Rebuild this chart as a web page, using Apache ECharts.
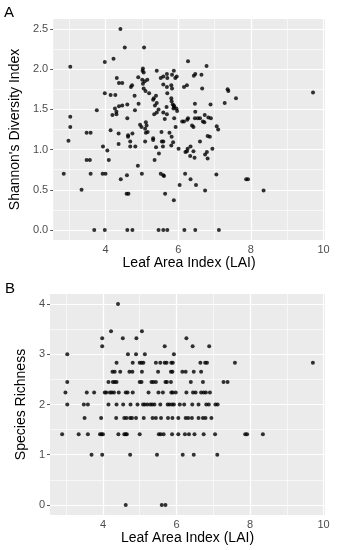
<!DOCTYPE html>
<html><head><meta charset="utf-8">
<script src="https://cdn.jsdelivr.net/npm/echarts@6/dist/echarts.min.js"></script>
<style>html,body{margin:0;padding:0;background:#fff}#c{width:338px;height:550px}</style>
</head><body><div id="c"></div>
<script>
// Panel A: Leaf Area Index vs Shannon's Diversity Index
const laiA = [
4.41,4.53,5.06,4.22,3.98,3.03,6.27,6.78,5.03,5.02,
5.41,5.88,5.05,5.69,5.83,6.64,6.47,6.43,5.96,5.59,
5.52,5.92,4.31,4.90,5.15,5.01,5.70,5.08,4.37,4.46,
5.03,5.59,4.73,4.70,6.24,6.16,5.81,5.69,6.66,5.05,
5.83,7.36,7.38,5.10,9.71,3.98,5.20,5.70,4.14,4.27,
4.80,5.39,7.59,5.33,5.81,5.31,5.82,5.41,7.28,4.37,
4.46,4.60,4.91,5.36,6.46,6.89,5.85,5.88,5.68,5.89,
4.26,5.46,3.76,4.81,5.87,5.95,5.97,6.47,4.30,5.41,
5.59,4.19,4.30,5.69,6.73,3.03,5.34,4.60,5.63,5.89,
6.11,6.16,6.25,6.27,6.46,6.54,6.60,6.83,6.90,6.68,
6.72,5.11,4.95,4.99,5.13,6.38,6.42,7.06,3.03,5.93,
5.09,7.10,4.14,3.48,3.59,4.36,5.16,5.54,5.76,4.62,
5.82,6.81,6.87,
4.62,4.74,5.11,
2.98,5.31,5.31,4.68,5.09,5.55,5.59,5.86,6.60,4.36,
3.93,4.68,4.82,5.58,6.34,5.81,5.39,4.05,6.01,6.26,
6.94,6.24,6.42,6.20,6.79,5.47,6.74,6.33,6.45,6.81,
3.48,3.57,4.09,5.35,4.89,2.85,3.59,3.92,4.00,5.00,
5.52,5.59,5.61,6.19,7.05,4.59,4.42,6.34,7.87,7.92,
6.04,6.49,3.34,6.74,8.35,4.58,4.63,5.64,5.88,
3.69,3.98,4.60,4.74,5.46,5.59,5.70,6.17,6.47,7.12
];
const shannon = [
2.50,2.27,2.27,2.13,2.09,2.03,2.10,2.04,2.01,1.98,
1.98,1.98,1.96,1.94,1.93,1.93,1.94,1.92,1.91,1.91,
1.89,1.89,1.89,1.90,1.87,1.87,1.89,1.85,1.83,1.83,
1.82,1.81,1.80,1.78,1.80,1.78,1.80,1.78,1.76,1.76,
1.76,1.75,1.73,1.73,1.71,1.70,1.70,1.70,1.68,1.68,
1.67,1.67,1.64,1.64,1.64,1.62,1.60,1.58,1.58,1.54,
1.55,1.56,1.57,1.55,1.57,1.56,1.56,1.55,1.53,1.53,
1.51,1.50,1.49,1.49,1.51,1.51,1.48,1.47,1.47,1.46,
1.46,1.43,1.44,1.44,1.43,1.41,1.44,1.39,1.38,1.39,
1.35,1.35,1.37,1.39,1.39,1.39,1.39,1.40,1.39,1.35,
1.34,1.34,1.31,1.28,1.30,1.30,1.28,1.29,1.28,1.28,
1.26,1.25,1.24,1.21,1.21,1.20,1.22,1.22,1.21,1.18,
1.16,1.17,1.16,
1.16,1.20,1.21,
1.11,1.14,1.12,1.10,1.10,1.10,1.10,1.09,1.10,1.07,
1.04,1.04,1.04,1.04,1.04,1.05,1.03,0.99,1.01,1.01,
1.01,0.98,0.98,0.97,0.97,0.95,0.94,0.92,0.90,0.89,
0.87,0.87,0.87,0.87,0.80,0.70,0.70,0.70,0.70,0.70,
0.70,0.68,0.67,0.70,0.69,0.68,0.63,0.63,0.63,0.63,
0.56,0.56,0.50,0.49,0.49,0.45,0.45,0.45,0.37,
0,0,0,0,0,0,0,0,0,0
];
// Panel B: Leaf Area Index vs Species Richness
const laiB = [
4.41,
4.22,5.06,
3.98,4.54,4.91,6.27,
3.98,5.68,6.44,6.89,
3.03,4.68,4.90,5.14,5.93,
4.37,4.81,5.00,5.05,5.10,5.44,5.56,5.68,5.73,5.86,5.90,6.65,6.78,6.83,7.59,9.71,
4.26,4.32,4.47,4.72,4.80,5.06,5.50,5.85,5.89,6.16,6.25,6.47,6.67,
3.03,4.15,4.27,4.32,4.37,5.00,5.05,5.32,5.37,5.44,5.70,5.74,5.85,6.39,6.72,7.28,7.39,
2.98,3.56,3.76,4.05,4.09,4.19,4.24,4.30,4.43,4.62,4.67,4.81,5.24,5.51,5.63,5.86,5.90,5.98,6.27,6.45,6.52,6.67,6.74,6.80,6.91,
3.03,3.48,3.59,4.15,4.37,4.55,4.75,4.94,5.09,5.14,5.21,5.29,5.34,5.40,5.56,5.76,5.81,5.88,5.93,6.09,6.21,6.43,6.60,6.81,6.88,7.06,7.12,
3.50,3.95,4.36,4.58,4.64,4.74,4.79,4.90,5.11,5.35,5.44,5.58,5.77,5.89,6.05,6.25,6.32,6.42,6.60,6.72,6.79,6.95,
2.89,3.34,3.59,3.92,3.96,4.00,4.42,4.58,4.62,4.65,5.00,5.52,5.57,5.65,5.88,6.05,6.23,6.34,6.49,6.74,7.05,7.87,7.92,8.35,
3.69,3.98,4.74,5.47,6.17,6.47,7.11,
4.62,5.60,5.70
];
const richness = [
4.00,
3.46,3.46,
3.32,3.32,3.32,3.32,
3.16,3.16,3.16,3.16,
3.00,3.00,3.00,3.00,3.00,
2.83,2.83,2.83,2.83,2.83,2.83,2.83,2.83,2.83,2.83,2.83,2.83,2.83,2.83,2.83,2.83,
2.65,2.65,2.65,2.65,2.65,2.65,2.65,2.65,2.65,2.65,2.65,2.65,2.65,
2.45,2.45,2.45,2.45,2.45,2.45,2.45,2.45,2.45,2.45,2.45,2.45,2.45,2.45,2.45,2.45,2.45,
2.24,2.24,2.24,2.24,2.24,2.24,2.24,2.24,2.24,2.24,2.24,2.24,2.24,2.24,2.24,2.24,2.24,2.24,2.24,2.24,2.24,2.24,2.24,2.24,2.24,
2.00,2.00,2.00,2.00,2.00,2.00,2.00,2.00,2.00,2.00,2.00,2.00,2.00,2.00,2.00,2.00,2.00,2.00,2.00,2.00,2.00,2.00,2.00,2.00,2.00,2.00,2.00,
1.73,1.73,1.73,1.73,1.73,1.73,1.73,1.73,1.73,1.73,1.73,1.73,1.73,1.73,1.73,1.73,1.73,1.73,1.73,1.73,1.73,1.73,
1.41,1.41,1.41,1.41,1.41,1.41,1.41,1.41,1.41,1.41,1.41,1.41,1.41,1.41,1.41,1.41,1.41,1.41,1.41,1.41,1.41,1.41,1.41,1.41,
1.00,1.00,1.00,1.00,1.00,1.00,1.00,
0,0,0
];
const xTicks = [4,6,8,10];
const xMinor = [3,5,7,9];
const yTicksA = [0,0.5,1,1.5,2,2.5];
const yMinorA = [0.25,0.75,1.25,1.75,2.25];
const yTicksB = [0,1,2,3,4];
const yMinorB = [0.5,1.5,2.5,3.5];
const panelLabels = ['A','B'];
const xTitle = 'Leaf Area Index (LAI)';
const yTitles = ["Shannon's Diversity Index", 'Species Richness'];

const FONT = '"Liberation Sans", Arial, sans-serif';
const chart = echarts.init(document.getElementById('c'), null, {renderer:'canvas'});

function xAx(gi){
  return {gridIndex:gi, type:'value', min:2.56, max:10.04,
    axisLine:{show:false},
    axisTick:{show:true, length:3, lineStyle:{color:'#555', width:1}, customValues:xTicks},
    axisLabel:{customValues:xTicks, color:'#4D4D4D', fontSize:11, margin:4, fontFamily:FONT},
    splitLine:{show:false},
    name:xTitle, nameLocation:'middle', nameGap:15,
    nameTextStyle:{color:'#000', fontSize:14, fontFamily:FONT}};
}
function yAx(gi, mn, mx, ticks, fmt, title){
  return {gridIndex:gi, type:'value', min:mn, max:mx,
    axisLine:{show:false},
    axisTick:{show:true, length:3, lineStyle:{color:'#555', width:1}, customValues:ticks},
    axisLabel:{customValues:ticks, color:'#4D4D4D', fontSize:11, margin:5, fontFamily:FONT, formatter:fmt},
    splitLine:{show:false},
    name:title, nameLocation:'middle', nameGap:20,
    nameTextStyle:{color:'#000', fontSize:14, fontFamily:FONT}};
}
function gridLines(gi, yMajor, yMinor){
  const d = [];
  xMinor.forEach(v=>d.push({xAxis:v, lineStyle:{color:'#FFFFFF', width:0.6, type:'solid'}}));
  yMinor.forEach(v=>d.push({yAxis:v, lineStyle:{color:'#FFFFFF', width:0.6, type:'solid'}}));
  xTicks.forEach(v=>d.push({xAxis:v, lineStyle:{color:'#FFFFFF', width:1.2, type:'solid'}}));
  yMajor.forEach(v=>d.push({yAxis:v, lineStyle:{color:'#FFFFFF', width:1.2, type:'solid'}}));
  return {type:'scatter', xAxisIndex:gi, yAxisIndex:gi, data:[], z:1, silent:true,
    markLine:{z:1, silent:true, symbol:['none','none'], label:{show:false}, animation:false, data:d}};
}

chart.setOption({
  animation:false,
  backgroundColor:'#FFFFFF',
  grid:[
    {left:50, top:19, width:275, height:221, show:true, backgroundColor:'#EBEBEB', borderWidth:0},
    {left:50, top:294, width:275, height:221, show:true, backgroundColor:'#EBEBEB', borderWidth:0}
  ],
  xAxis:[xAx(0), xAx(1)],
  yAxis:[
    yAx(0, -0.125, 2.625, yTicksA, v=>v.toFixed(1), yTitles[0]),
    yAx(1, -0.2, 4.2, yTicksB, v=>String(v), yTitles[1])
  ],
  graphic:[
    {type:'text', left:4, top:5, style:{text:panelLabels[0], fontSize:15, fill:'#000', fontFamily:FONT}},
    {type:'text', left:5, top:281, style:{text:panelLabels[1], fontSize:15, fill:'#000', fontFamily:FONT}}
  ],
  series:[
    gridLines(0, yTicksA, yMinorA),
    gridLines(1, yTicksB, yMinorB),
    {type:'scatter', xAxisIndex:0, yAxisIndex:0, z:10, symbol:'circle', symbolSize:4,
      itemStyle:{color:'#000'}, data:laiA.map((x,i)=>[x, shannon[i]])},
    {type:'scatter', xAxisIndex:1, yAxisIndex:1, z:10, symbol:'circle', symbolSize:4,
      itemStyle:{color:'#000'}, data:laiB.map((x,i)=>[x, richness[i]])}
  ]
});
</script>
</body></html>
